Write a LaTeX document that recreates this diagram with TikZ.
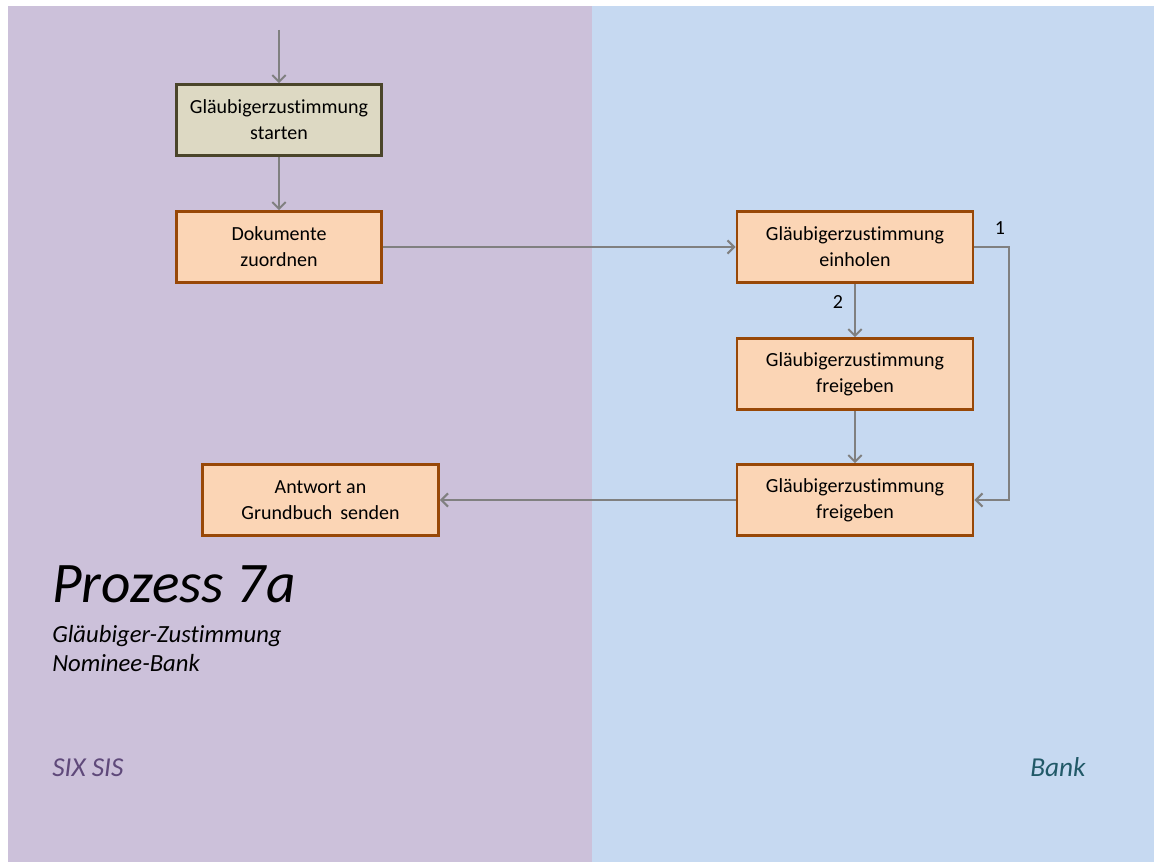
\documentclass[tikz,border=0pt]{standalone}
\usepackage{fontspec}
\setmainfont{Carlito}[Ligatures=NoCommon]
\usetikzlibrary{arrows.meta}
\definecolor{sixbg}{HTML}{CCC1DA}
\definecolor{bankbg}{HTML}{C6D9F1}
\definecolor{taskfill}{HTML}{FBD5B5}
\definecolor{taskline}{HTML}{984807}
\definecolor{startfill}{HTML}{DDD9C3}
\definecolor{startline}{HTML}{4A452A}
\definecolor{sixtext}{HTML}{5F497A}
\definecolor{banktext}{HTML}{215968}
\definecolor{flowline}{HTML}{808080}

\begin{document}
\begin{tikzpicture}[x=0.75pt,y=-0.75pt,
  task/.style={draw=taskline,fill=taskfill,line width=2.2pt,align=center,
    minimum height=53pt,inner sep=0pt,font=\fontsize{15}{19.5}\selectfont},
  flow/.style={draw=flowline,line width=1.5pt,-{Straight Barb[length=5pt,width=10pt]}},
  lbl/.style={font=\fontsize{15}{19.5}\selectfont,inner sep=0pt}]
  \useasboundingbox (0,0) rectangle (1154,862);
  \fill[sixbg] (8,6) rectangle (592,862);
  \fill[bankbg] (592,6) rectangle (1154,862);

  \coordinate (in) at (279,30);
  \node (0) at (279,120) [task,draw=startline,fill=startfill,minimum width=154pt] {Gläubigerzustimmung\\starten};
  \node (1) at (279,247) [task,minimum width=154pt] {Dokumente\\zuordnen};
  \node (2) at (855,247) [task,minimum width=177pt] {Gläubigerzustimmung\\einholen};
  \node (3) at (855,374) [task,minimum width=177pt] {Gläubigerzustimmung\\freigeben};
  \node (4) at (855,500) [task,minimum width=177pt] {Gläubigerzustimmung\\freigeben};
  \node (5) at (320.5,500) [task,minimum width=177pt] {Antwort an\\Grundbuch\, senden};
  \coordinate (c1) at (1009,247);
  \coordinate (c2) at (1009,500);

  \draw[flow] (in) to (0);
  \draw[flow] (0) to (1);
  \draw[flow] (1) to (2);
  \draw[flow] (2.east) -- (c1) -- (c2) -- (4.east);
  \draw[flow] (2) to (3);
  \draw[flow] (3) to (4);
  \draw[flow] (4) to (5);
  \node (n1) at (1000,228) [lbl] {1};
  \node (n2) at (838,302) [lbl] {2};

  \node (t) at (52,603) [anchor=base west,inner sep=0pt,font=\fontsize{43}{50}\selectfont\itshape] {Prozess 7a};
  \node (s1) at (52,643) [anchor=base west,inner sep=0pt,font=\fontsize{18.5}{22}\selectfont\itshape] {Gläubiger-Zustimmung};
  \node (s2) at (52,672) [anchor=base west,inner sep=0pt,font=\fontsize{18.5}{22}\selectfont\itshape] {Nominee-Bank};
  \node (six) at (52,777) [anchor=base west,inner sep=0pt,text=sixtext,font=\fontsize{20.5}{24}\selectfont\itshape] {SIX SIS};
  \node (bank) at (1030,777) [anchor=base west,inner sep=0pt,text=banktext,font=\fontsize{20.5}{24}\selectfont\itshape] {Bank};
\end{tikzpicture}
\end{document}
